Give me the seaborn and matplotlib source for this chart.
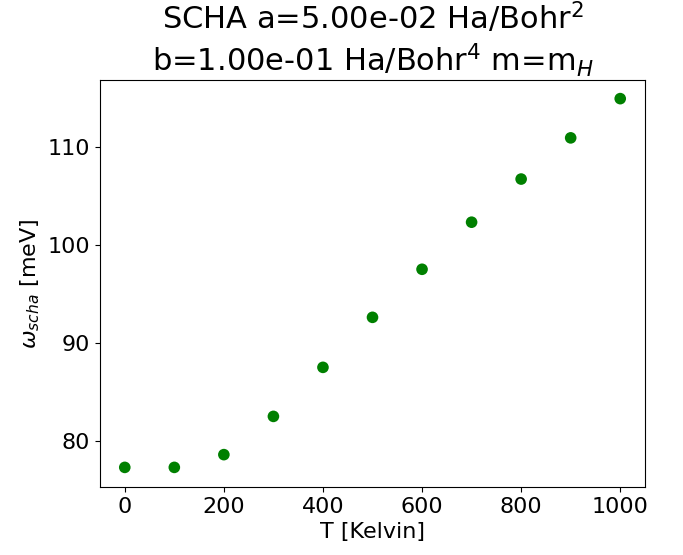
import matplotlib
matplotlib.use("Agg")
import matplotlib.pyplot as plt
import seaborn as sns
import pandas as pd

T = [0, 100, 200, 300, 400, 500, 600, 700, 800, 900, 1000]
omega = [77.3, 77.3, 78.6, 82.5, 87.5, 92.6, 97.5, 102.3, 106.7, 110.9, 114.9]

sns.set_style("ticks")
plt.rcParams['font.family'] = ['DejaVu Sans']
for k in ["text.color", "axes.labelcolor", "xtick.color", "ytick.color", "axes.edgecolor"]:
    plt.rcParams[k] = "black"
df = pd.DataFrame({"T": T, "omega": omega})

fig = plt.figure(figsize=(6.83, 5.55), dpi=100)
ax = fig.add_axes([100/683, 1-487/555, 545/683, 407/555])
sns.scatterplot(data=df, x="T", y="omega", color="green", s=70, edgecolor="none", ax=ax)
ax.set_xlabel("T [Kelvin]", fontsize=16)
ax.set_ylabel(r"$\omega_{scha}$ [meV]", fontsize=16)
ax.set_title("SCHA a=5.00e-02 Ha/Bohr$^2$\nb=1.00e-01 Ha/Bohr$^4$ m=m$_H$", fontsize=22)
ax.tick_params(labelsize=16)
ax.set_xticks([0, 200, 400, 600, 800, 1000])
ax.set_yticks([80, 90, 100, 110])
ax.set_xlim(-50, 1050)
ax.set_ylim(75.3, 116.8)
for s in ax.spines.values():
    s.set_visible(True)
fig.savefig("out.png", dpi=100)
